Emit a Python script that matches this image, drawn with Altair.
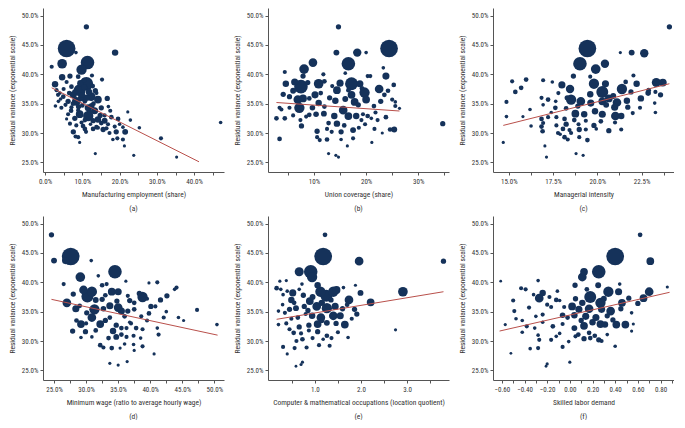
import altair as alt
import pandas as pd

NAVY = "#15325a"
RED = "#b9504b"
FONT = "Liberation Sans Narrow, Roboto Condensed, Roboto, sans-serif"
W, H = 181, 164

Y_TITLE = "Residual variance (exponential scale)"

# ---------- (a) Manufacturing employment (share, %) ----------
a_x = [11.1, 5.8, 8.3, 18.8, 11.4, 4.6, 1.8, 9.8, 12.6, 4.6, 6.7, 8.9, 15.3, 2.7, 11.1, 5.8, 7.1, 9.3, 3.1, 4.0,
       4.9, 7.6, 3.6, 6.2, 8.4, 10.7, 12.4, 14.2, 16.7, 11.6, 10.0, 2.8, 4.4, 7.1, 9.3, 11.6, 8.9, 6.2, 13.3, 15.1,
       10.7, 12.9, 14.2, 16.0, 17.8, 19.6, 5.8, 6.7, 8.4, 9.8, 12.2, 15.1, 16.9, 18.7, 20.0, 20.9, 22.2, 22.9, 25.3, 7.6,
       10.7, 12.9, 14.2, 15.6, 17.3, 19.1, 21.5, 19.4, 18.2, 20.9, 8.2, 8.9, 9.3, 13.5, 21.3, 23.8, 31.1, 35.3, 47.1,
       10.0, 11.8, 13.0, 7.5, 9.0, 12.0, 13.8, 16.0, 17.0, 5.0, 10.5,
       6.5, 8.0, 9.5, 10.5, 12.8, 13.5, 7.0, 8.0, 10.2, 11.0, 13.8, 14.8, 16.5, 17.5, 5.5, 4.2, 3.5, 12.5, 11.2, 9.8]
a_y = [48.1, 44.4, 43.7, 43.7, 42.0, 41.8, 41.3, 40.8, 39.8, 39.5, 39.7, 39.6, 39.1, 38.3, 38.4, 38.7, 37.9, 37.3, 37.3, 36.8,
       36.2, 36.5, 35.4, 35.4, 35.4, 35.4, 36.2, 35.7, 35.9, 34.3, 34.7, 34.6, 34.3, 34.4, 33.2, 32.9, 33.9, 33.2, 33.8, 34.3,
       32.2, 32.1, 32.3, 32.1, 32.7, 32.4, 32.4, 31.6, 31.3, 31.8, 31.5, 31.7, 31.5, 31.1, 31.5, 31.0, 33.6, 32.2, 30.9, 30.2,
       30.7, 30.7, 30.9, 30.6, 30.0, 30.2, 30.2, 29.1, 28.9, 28.9, 29.4, 29.3, 28.4, 26.5, 27.8, 26.2, 29.1, 25.9, 31.8,
       36.5, 37.0, 35.0, 35.0, 34.5, 33.5, 36.8, 33.0, 34.5, 37.5, 39.0,
       36.8, 37.0, 38.5, 37.8, 38.0, 37.2, 33.8, 32.5, 31.2, 30.2, 31.0, 33.0, 30.8, 33.8, 34.8, 35.8, 36.5, 34.6, 36.0, 36.0]
a_p = [1.35, 19.0, 0.44, 2.2, 11.0, 5.4, 0.69, 6.2, 0.69, 2.2, 1.35, 1.0, 0.69, 2.2, 11.0, 0.69, 1.0, 8.45, 0.69, 0.44,
       1.0, 2.76, 0.44, 1.35, 4.3, 1.0, 4.3, 3.34, 1.35, 2.76, 1.0, 0.44, 0.69, 0.69, 3.34, 6.2, 0.69, 0.69, 2.76, 1.35,
       1.0, 1.35, 2.2, 1.77, 1.0, 1.0, 0.25, 0.69, 0.69, 0.69, 0.44, 1.0, 0.69, 0.69, 0.44, 0.44, 0.25, 0.44, 0.44, 1.35,
       1.0, 1.0, 0.69, 1.35, 0.69, 1.35, 1.77, 0.69, 0.44, 0.69, 0.69, 0.69, 0.25, 0.25, 0.25, 0.25, 0.69, 0.25, 0.44,
       1.77, 2.2, 1.0, 1.0, 1.35, 1.35, 0.69, 0.69, 0.44, 0.69, 1.0,
       1.0, 1.35, 2.2, 1.77, 1.0, 1.35, 1.0, 1.35, 1.0, 0.69, 1.0, 1.35, 0.69, 0.69, 0.69, 0.44, 0.69, 1.77, 2.2, 2.76]
a_line_x = [1.8, 41.3]
a_line_y = [37.7, 25.1]

# ---------- (b) Union coverage (share, %) ----------
b_x = [14.7, 24.4, 14.3, 18.3, 20.0, 16.6, 8.1, 9.8, 4.4, 7.9, 20.3, 20.8, 23.3, 23.8, 4.6, 6.3, 7.5, 10.9, 15.0, 17.2,
       18.8, 22.5, 25.3, 24.2, 4.1, 5.3, 6.9, 7.9, 9.1, 10.2, 11.3, 14.4, 16.6, 17.2, 19.7, 20.0, 17.8, 25.0, 25.6, 26.4,
       25.6, 14.1, 10.9, 9.7, 7.2, 5.3, 3.75, 3.4, 9.1, 10.4, 11.9, 15.6, 16.6, 18.1, 19.4, 20.3, 13.9, 12.8, 14.4, 15.8,
       19.1, 21.0, 22.2, 23.8, 2.8, 4.4, 7.4, 7.6, 10.6, 12.5, 13.4, 15.2, 17.5, 18.6, 21.6, 24.6, 25.4, 23.1, 10.6, 11.1,
       12.5, 15.2, 17.5, 3.4, 21.1, 16.4, 12.8, 14.2, 14.7, 34.7,
       6.0, 8.8, 12.0, 13.0, 16.0, 18.5, 21.5, 22.8, 23.5, 12.0, 8.5, 6.0, 19.8, 21.8, 13.5, 11.8, 16.0, 19.2]
b_y = [48.1, 44.4, 43.7, 43.7, 43.7, 41.8, 40.9, 42.0, 40.4, 39.7, 39.7, 39.7, 41.1, 39.7, 38.4, 38.7, 37.9, 38.4, 38.5, 38.4,
       38.4, 37.5, 38.2, 37.2, 36.6, 36.2, 35.7, 35.9, 35.9, 36.5, 36.8, 37.3, 37.3, 36.5, 36.9, 35.7, 35.3, 35.7, 35.3, 34.2,
       34.6, 35.5, 35.1, 34.3, 34.3, 34.3, 34.0, 34.3, 33.1, 33.2, 33.3, 33.9, 32.9, 32.9, 33.2, 32.9, 32.9, 31.7, 31.6, 31.3,
       32.2, 32.5, 32.2, 32.7, 32.5, 32.5, 32.2, 31.2, 30.3, 30.7, 30.2, 30.2, 30.5, 30.9, 30.7, 30.6, 30.6, 30.0, 29.3, 28.8,
       28.9, 28.9, 29.1, 29.0, 28.4, 27.8, 26.5, 26.2, 25.9, 31.6,
       37.2, 38.6, 38.8, 36.0, 35.8, 34.8, 34.6, 35.4, 36.5, 34.5, 32.8, 33.0, 31.5, 33.5, 38.0, 40.0, 40.2, 37.6]
b_p = [1.35, 19.0, 1.77, 3.97, 0.44, 11.0, 5.4, 4.3, 0.69, 1.35, 0.69, 0.69, 0.44, 2.76, 2.2, 2.76, 11.0, 5.4, 2.76, 9.96,
       2.76, 4.3, 1.0, 1.0, 1.35, 1.35, 4.3, 3.34, 1.0, 2.76, 1.0, 3.34, 1.0, 3.34, 6.2, 3.34, 3.34, 0.69, 0.44, 0.25,
       0.69, 2.2, 2.2, 1.55, 6.2, 0.69, 0.69, 0.69, 1.0, 1.55, 1.77, 4.3, 3.34, 2.2, 0.69, 1.0, 2.2, 1.0, 2.2, 1.0,
       0.69, 0.44, 0.69, 1.0, 1.0, 1.0, 0.69, 1.35, 1.35, 0.69, 0.69, 1.35, 1.77, 0.69, 0.69, 1.0, 1.77, 0.25, 0.69, 0.69,
       1.0, 0.44, 0.69, 1.0, 0.25, 0.25, 0.25, 0.25, 0.25, 1.35,
       1.77, 1.35, 1.0, 1.35, 1.77, 1.35, 1.0, 1.35, 1.0, 1.0, 0.69, 0.69, 0.69, 0.69, 0.69, 0.69, 0.44, 1.0]
b_line_x = [2.8, 26.4]
b_line_y = [35.2, 33.75]

# ---------- (c) Managerial intensity (%) ----------
c_x = [24.07, 19.44, 21.30, 21.94, 22.65, 19.02, 19.91, 20.43, 22.04, 22.22, 23.33, 23.70, 23.28, 23.57, 18.65, 19.81, 20.46,
       21.39, 20.28, 18.46, 18.0, 17.46, 16.94, 15.98, 15.19, 15.70, 15.37, 14.87, 14.87, 14.69, 15.80, 16.26, 16.85, 17.22,
       17.65, 16.94, 17.63, 18.24, 18.52, 19.07, 19.63, 20.28, 21.11, 21.67, 20.65, 22.46, 22.87, 20.98, 21.72, 22.41, 23.24,
       18.76, 19.26, 19.87, 20.28, 21.02, 21.35, 18.15, 17.69, 17.22, 16.85, 16.94, 16.85, 17.69, 18.24, 18.70, 18.94, 19.35,
       19.81, 18.06, 18.43, 18.98, 16.91, 17.78, 18.52, 19.35, 19.94, 20.65, 21.35, 18.15, 18.33, 18.98, 19.44, 17.04, 17.13,
       18.80, 19.20, 23.28,
       17.8, 18.3, 19.6, 20.9, 21.9, 22.9, 20.2, 21.0, 17.4, 16.2, 18.9, 20.5, 22.0, 17.9, 19.6, 21.6]
c_y = [48.1, 44.4, 43.7, 43.7, 43.6, 41.8, 40.9, 41.8, 39.8, 38.4, 38.6, 38.6, 37.0, 36.5, 39.7, 38.4, 38.4,
       37.5, 37.0, 37.5, 38.2, 38.7, 39.0, 39.1, 38.8, 37.7, 37.0, 35.3, 32.8, 28.4, 32.8, 31.2, 36.0, 35.7,
       35.4, 34.8, 34.3, 34.2, 35.7, 35.4, 35.1, 35.4, 35.2, 35.5, 35.9, 35.9, 36.8, 34.4, 34.4, 34.3, 35.1,
       33.3, 33.2, 33.7, 33.2, 32.9, 32.9, 32.4, 32.7, 32.7, 32.4, 31.7, 31.1, 31.3, 31.5, 32.2, 31.5, 32.1,
       31.3, 30.7, 30.5, 30.6, 30.3, 30.0, 30.0, 30.6, 30.7, 30.4, 30.6, 29.3, 28.9, 29.3, 28.8, 27.8, 25.9,
       26.5, 26.2, 33.5,
       36.8, 36.0, 36.6, 36.3, 37.0, 37.3, 32.0, 31.8, 33.5, 34.0, 34.6, 34.8, 33.4, 29.8, 39.6, 38.7]
c_p = [1.35, 19.0, 0.25, 1.77, 3.97, 11.0, 5.4, 3.97, 0.69, 2.2, 4.66, 3.34, 0.69, 1.35, 1.35, 6.2, 2.76,
       6.2, 8.45, 3.97, 2.76, 0.44, 0.69, 1.0, 0.69, 1.0, 1.0, 0.69, 0.44, 0.25, 0.25, 0.44, 0.69, 1.0,
       0.44, 0.44, 1.0, 1.0, 6.2, 4.3, 2.76, 3.34, 4.3, 2.2, 3.34, 2.2, 1.55, 2.76, 1.35, 0.69, 0.44,
       3.34, 2.2, 2.2, 2.76, 4.3, 2.2, 1.0, 0.69, 0.69, 1.0, 0.69, 1.0, 0.69, 1.35, 1.0, 0.69, 0.69,
       1.35, 1.0, 0.69, 1.35, 1.0, 0.69, 0.69, 0.69, 0.44, 1.35, 0.69, 1.0, 0.69, 0.69, 1.0, 0.25, 0.25,
       0.25, 0.25, 0.44,
       0.69, 1.35, 2.2, 1.77, 1.35, 1.0, 1.0, 0.69, 0.44, 0.44, 1.35, 1.77, 0.69, 0.44, 0.69, 1.0]
c_line_x = [14.69, 24.07]
c_line_y = [31.3, 38.4]

# ---------- (d) Minimum wage (ratio to average hourly wage, %) ----------
d_x = [24.6, 25.0, 27.6, 26.8, 30.8, 34.5, 29.1, 26.5, 30.9, 29.6, 30.2, 31.9, 32.5, 33.2, 34.0, 35.0, 36.2, 39.8, 41.1, 43.8,
       44.1, 42.6, 41.6, 38.8, 38.3, 36.5, 36.8, 32.5, 27.0, 28.4, 30.1, 31.3, 32.7, 33.7, 35.0, 35.5, 36.5, 37.5, 40.1, 40.8,
       39.8, 38.6, 42.1, 30.9, 32.2, 29.2, 33.7, 34.7, 34.2, 35.5, 36.3, 36.8, 37.8, 38.8, 41.1, 41.3, 35.5, 34.7, 36.3, 37.4,
       29.9, 30.9, 29.2, 32.2, 32.7, 34.0, 35.3, 37.4, 38.8, 37.5, 40.6, 33.7, 35.0, 36.4, 44.4, 45.2, 47.3, 50.4, 27.9,
       28.0, 29.0, 31.5, 33.0, 34.8, 37.5, 39.5, 33.0, 36.0, 37.0, 39.5, 31.5, 33.5, 38.5, 28.5, 30.0, 42.5, 36.0]
d_y = [48.1, 43.7, 44.4, 43.7, 43.7, 41.8, 40.9, 39.7, 38.4, 38.7, 37.6, 41.1, 39.5, 39.7, 38.4, 38.4, 40.2, 39.9, 40.0, 38.8,
       39.1, 37.7, 37.0, 37.5, 38.1, 37.7, 36.9, 37.1, 36.5, 35.5, 34.8, 35.4, 35.5, 36.0, 35.7, 35.1, 35.1, 35.4, 35.9, 35.9,
       34.7, 34.2, 34.0, 34.0, 32.9, 32.9, 34.0, 32.7, 31.7, 32.2, 32.2, 33.2, 32.2, 32.0, 32.2, 31.1, 31.1, 30.7, 30.7, 30.9,
       31.6, 30.7, 30.6, 29.3, 28.9, 28.8, 28.8, 29.4, 29.1, 28.4, 27.8, 26.2, 25.9, 26.5, 34.0, 33.5, 35.3, 32.8, 31.7,
       38.0, 36.0, 37.0, 37.8, 36.8, 36.5, 37.2, 33.5, 34.2, 33.0, 33.5, 31.8, 30.5, 30.5, 33.5, 33.0, 35.0, 29.5]
d_p = [1.35, 1.77, 19.0, 2.76, 0.44, 11.0, 5.4, 0.69, 6.2, 4.3, 8.45, 0.44, 1.0, 0.69, 3.34, 2.76, 0.25, 0.25, 0.69, 0.44,
       0.69, 1.35, 1.35, 6.2, 1.35, 0.69, 1.35, 1.35, 4.3, 2.76, 1.35, 6.2, 1.55, 2.76, 4.3, 2.76, 1.35, 1.0, 1.35, 0.69,
       1.0, 0.69, 0.69, 4.3, 3.34, 3.34, 1.0, 1.35, 2.2, 1.0, 0.69, 0.44, 1.0, 0.69, 0.44, 0.69, 1.0, 1.77, 0.69, 0.69,
       1.35, 0.44, 0.44, 1.0, 0.69, 1.0, 0.25, 0.44, 0.69, 0.25, 0.25, 0.25, 0.25, 0.25, 0.44, 0.25, 0.69, 0.44, 1.35,
       1.35, 1.0, 1.77, 1.0, 1.35, 1.0, 0.69, 1.35, 1.0, 0.69, 0.69, 1.0, 1.0, 0.44, 1.0, 0.69, 0.44, 0.44]
d_line_x = [24.6, 50.5]
d_line_y = [37.1, 31.0]

# ---------- (e) Computer & mathematical occupations (location quotient) ----------
e_x = [1.22, 1.18, 1.96, 3.79, 0.91, 0.66, 0.94, 0.72, 0.38, 0.24, 0.17, 0.26, 0.31, 0.52, 0.49, 0.66, 1.06, 1.12, 1.40, 1.47,
       1.62, 1.88, 1.74, 1.99, 2.21, 2.91, 2.75, 1.25, 0.89, 0.77, 0.59, 0.45, 0.35, 0.21, 1.04, 1.26, 1.44, 1.55, 1.40, 1.13,
       0.94, 0.80, 0.63, 0.49, 0.38, 0.21, 1.86, 1.91, 1.65, 1.46, 1.26, 1.06, 0.87, 0.66, 0.54, 0.70, 0.87, 1.06, 1.26, 1.36,
       1.72, 1.18, 0.73, 1.09, 1.32, 0.31, 0.56, 0.82, 0.40, 0.73, 0.70, 0.59,
       0.55, 0.75, 0.95, 1.15, 1.35, 1.60, 1.70, 0.30, 0.45, 0.60, 0.95, 1.15, 1.50, 0.85, 0.40, 1.80]
e_y = [48.1, 44.4, 43.6, 43.6, 41.8, 41.8, 40.9, 39.7, 40.3, 40.2, 39.0, 38.8, 37.9, 38.2, 37.0, 38.8, 39.5, 38.4, 38.4, 38.7,
       39.1, 39.5, 37.0, 38.2, 36.6, 38.4, 31.9, 37.7, 36.8, 35.9, 35.6, 35.4, 34.8, 35.1, 35.9, 35.6, 35.9, 34.3, 34.3, 34.0,
       34.3, 34.6, 34.0, 33.8, 33.0, 32.8, 35.4, 34.6, 32.8, 33.0, 33.1, 32.9, 32.7, 32.4, 31.4, 31.3, 31.8, 31.6, 30.9, 30.5,
       30.6, 30.3, 30.3, 29.3, 29.2, 29.0, 28.8, 28.9, 27.8, 26.4, 26.0, 25.7,
       36.5, 37.8, 37.5, 36.5, 37.0, 35.5, 36.2, 36.2, 32.0, 30.0, 30.5, 33.5, 31.5, 35.2, 38.5, 33.8]
e_p = [1.0, 19.0, 4.3, 1.35, 11.0, 4.66, 6.2, 0.44, 0.25, 0.25, 1.0, 0.44, 0.44, 2.76, 2.2, 0.44, 2.2, 6.2, 6.2, 3.34,
       0.44, 0.25, 4.3, 1.77, 3.34, 5.4, 0.25, 8.45, 3.34, 1.35, 1.77, 1.35, 0.69, 0.44, 4.3, 6.2, 2.76, 2.76, 4.3, 4.3,
       2.2, 0.69, 1.0, 0.69, 0.69, 0.44, 1.35, 1.35, 3.34, 1.35, 1.77, 3.34, 1.35, 1.35, 1.0, 0.69, 0.69, 1.35, 1.0, 0.69,
       0.44, 0.44, 1.0, 0.69, 0.69, 0.69, 0.69, 0.69, 0.25, 0.25, 0.25, 0.11,
       1.0, 1.35, 1.77, 2.2, 1.35, 1.35, 1.0, 0.44, 0.69, 0.69, 0.69, 1.35, 0.69, 1.35, 0.44, 0.69]
e_line_x = [0.17, 3.79]
e_line_y = [33.7, 38.4]

# ---------- (f) Skilled labor demand ----------
f_x = [0.62, 0.40, 0.71, 0.255, 0.125, 0.11, -0.61, -0.28, 0.046, 0.25, 0.44, 0.86, -0.43, -0.39, -0.24, -0.27, -0.32, -0.18,
       -0.11, 0.18, 0.34, 0.43, 0.70, 0.65, 0.60, 0.46, 0.27, 0.11, -0.50, -0.36, -0.165, -0.09, -0.05, 0.02, 0.08, 0.17,
       0.28, 0.36, -0.064, 0.04, 0.14, 0.23, 0.33, 0.545, -0.49, -0.475, -0.57, -0.24, -0.24, -0.31, -0.38, -0.15, -0.064,
       0.04, 0.125, 0.20, 0.27, 0.31, 0.41, 0.49, 0.56, -0.28, -0.09, 0.075, 0.17, 0.22, 0.33, 0.545, -0.27, -0.165, -0.01,
       0.125, 0.18, 0.255, -0.064, -0.28, -0.35, -0.52, 0.40, 0.00, -0.20, -0.21,
       -0.20, -0.12, 0.05, 0.15, 0.30, 0.52, -0.02, 0.10, 0.38, -0.30, -0.42, 0.05, 0.28, -0.12, 0.45, -0.42]
f_y = [48.1, 44.4, 43.6, 41.8, 41.8, 40.9, 40.2, 40.3, 39.5, 39.5, 39.7, 39.2, 39.0, 38.8, 38.2, 37.3, 37.9, 37.5,
       38.5, 37.5, 38.4, 38.4, 38.4, 37.3, 36.4, 36.5, 36.5, 36.5, 36.9, 35.7, 35.8, 36.9, 35.8, 35.9, 35.4, 35.5,
       35.4, 35.1, 34.4, 34.4, 34.2, 34.0, 34.3, 34.8, 35.1, 33.8, 32.8, 34.5, 33.2, 32.2, 32.5, 32.5, 32.9,
       32.2, 32.6, 33.2, 32.9, 32.8, 32.8, 32.8, 32.9, 31.0, 31.3, 31.1, 31.4, 30.9, 31.1, 31.7, 30.2, 30.2, 29.9,
       30.4, 30.5, 30.2, 29.0, 28.8, 28.7, 27.9, 29.1, 26.4, 26.1, 25.7,
       36.2, 37.0, 37.2, 38.8, 37.2, 37.3, 34.0, 33.5, 33.6, 34.2, 33.5, 30.8, 30.0, 30.8, 35.5, 31.5]
f_p = [1.0, 19.0, 3.34, 11.0, 3.34, 4.3, 0.11, 0.44, 1.35, 1.77, 0.44, 0.25, 0.69, 0.69, 2.2, 4.3, 0.44, 0.69,
       0.44, 8.45, 6.2, 2.76, 4.3, 3.34, 1.35, 3.34, 6.2, 2.2, 0.69, 0.69, 0.69, 0.44, 0.69, 3.34, 2.76, 4.3,
       2.76, 4.3, 1.55, 2.2, 2.76, 2.76, 1.35, 0.44, 0.69, 0.44, 0.25, 0.69, 0.44, 0.44, 0.69, 1.0, 0.69,
       1.77, 3.34, 2.2, 3.34, 2.2, 3.34, 3.34, 0.25, 0.44, 0.44, 1.0, 1.0, 1.0, 0.44, 0.25, 0.69, 0.69, 0.44,
       1.35, 1.0, 1.35, 0.69, 0.69, 0.44, 0.11, 0.44, 0.25, 0.25, 0.11,
       0.69, 1.0, 1.35, 1.0, 1.77, 1.35, 1.0, 1.35, 1.35, 0.44, 0.44, 0.69, 0.69, 0.44, 1.35, 0.44]
f_line_x = [-0.62, 0.88]
f_line_y = [31.7, 38.3]

Y_TICKS = [0.25, 0.30, 0.35, 0.40, 0.45, 0.50]


def panel(xs, ys, ps, lx, ly, xscale_factor, xdomain, xvalues, step, fmt, xtitle, letter):
    df = pd.DataFrame({
        "x": [v * xscale_factor for v in xs],
        "y": [v / 100 for v in ys],
        "pop": ps,
    }).sort_values("pop", ascending=False)
    ldf = pd.DataFrame({"x": [v * xscale_factor for v in lx], "y": [v / 100 for v in ly]})
    xs_ = alt.Scale(domain=xdomain, nice=False, zero=False)
    ys_ = alt.Scale(domain=[0.2336, 0.513], nice=False, zero=False)
    xaxis = alt.Axis(values=xvalues, tickCount=100, format=fmt, title=xtitle, labelOverlap=False,
                     labelExpr=f"round(datum.value/{step}) % 2 == 0 ? datum.label : ''")
    yaxis = alt.Axis(values=Y_TICKS, tickCount=100, format=".1%", title=Y_TITLE, labelOverlap=False)
    pts = alt.Chart(df).mark_circle(color=NAVY, opacity=1).encode(
        x=alt.X("x:Q", scale=xs_, axis=xaxis),
        y=alt.Y("y:Q", scale=ys_, axis=yaxis),
        size=alt.Size("pop:Q", scale=alt.Scale(domain=[0, 20], range=[6, 330]), legend=None),
        order=alt.Order("pop:Q", sort="descending"),
    )
    ln = alt.Chart(ldf).mark_line(color=RED, strokeWidth=1).encode(
        x=alt.X("x:Q", scale=xs_),
        y=alt.Y("y:Q", scale=ys_),
    )
    return alt.layer(pts, ln).properties(
        width=W, height=H,
        title=alt.TitleParams(letter, orient="bottom", offset=7),
    )


pa = panel(a_x, a_y, a_p, a_line_x, a_line_y, 0.01, [-0.0053, 0.48],
           [i * 0.05 for i in range(0, 10)], 0.05, ".1%", "Manufacturing employment (share)", "(a)")
pb = panel(b_x, b_y, b_p, b_line_x, b_line_y, 0.01, [0.0118, 0.359],
           [0.05, 0.10, 0.15, 0.20, 0.25, 0.30, 0.35], 0.05, ".0%", "Union coverage (share)", "(b)")
pc = panel(c_x, c_y, c_p, c_line_x, c_line_y, 0.01, [0.1411, 0.2433],
           [0.15, 0.1625, 0.175, 0.1875, 0.20, 0.2125, 0.225, 0.2375], 0.0125, ".1%", "Managerial intensity", "(c)")
pd_ = panel(d_x, d_y, d_p, d_line_x, d_line_y, 0.01, [0.2328, 0.515],
            [0.25, 0.275, 0.30, 0.325, 0.35, 0.375, 0.40, 0.425, 0.45, 0.475, 0.50], 0.025, ".1%",
            "Minimum wage (ratio to average hourly wage)", "(d)")
pe = panel(e_x, e_y, e_p, e_line_x, e_line_y, 1.0, [-0.017, 3.91],
           [0.5, 1.0, 1.5, 2.0, 2.5, 3.0, 3.5], 0.5, ".1f",
           "Computer & mathematical occupations (location quotient)", "(e)")
pf = panel(f_x, f_y, f_p, f_line_x, f_line_y, 1.0, [-0.678, 0.919],
           [-0.6, -0.5, -0.4, -0.3, -0.2, -0.1, 0.0, 0.1, 0.2, 0.3, 0.4, 0.5, 0.6, 0.7, 0.8, 0.9], 0.1, ".2f",
           "Skilled labor demand", "(f)")

chart = alt.vconcat(
    alt.hconcat(pa, pb, pc, spacing=9),
    alt.hconcat(pd_, pe, pf, spacing=9),
    spacing=4,
).properties(padding=0).configure_axis(
    grid=False, domainColor="#555", tickColor="#555", labelColor="#333", titleColor="#333",
    labelFont=FONT, titleFont=FONT, labelFontSize=7, titleFontSize=7.5, titleFontWeight="normal",
    tickSize=3, labelPadding=2, domainWidth=1, tickWidth=1,
).configure_axisX(titlePadding=6).configure_axisY(titlePadding=5).configure_view(
    stroke=None
).configure_title(font=FONT, fontSize=7.5, fontWeight="normal", color="#333")

chart.save("out.html", embed_options={"renderer": "svg", "actions": False})
